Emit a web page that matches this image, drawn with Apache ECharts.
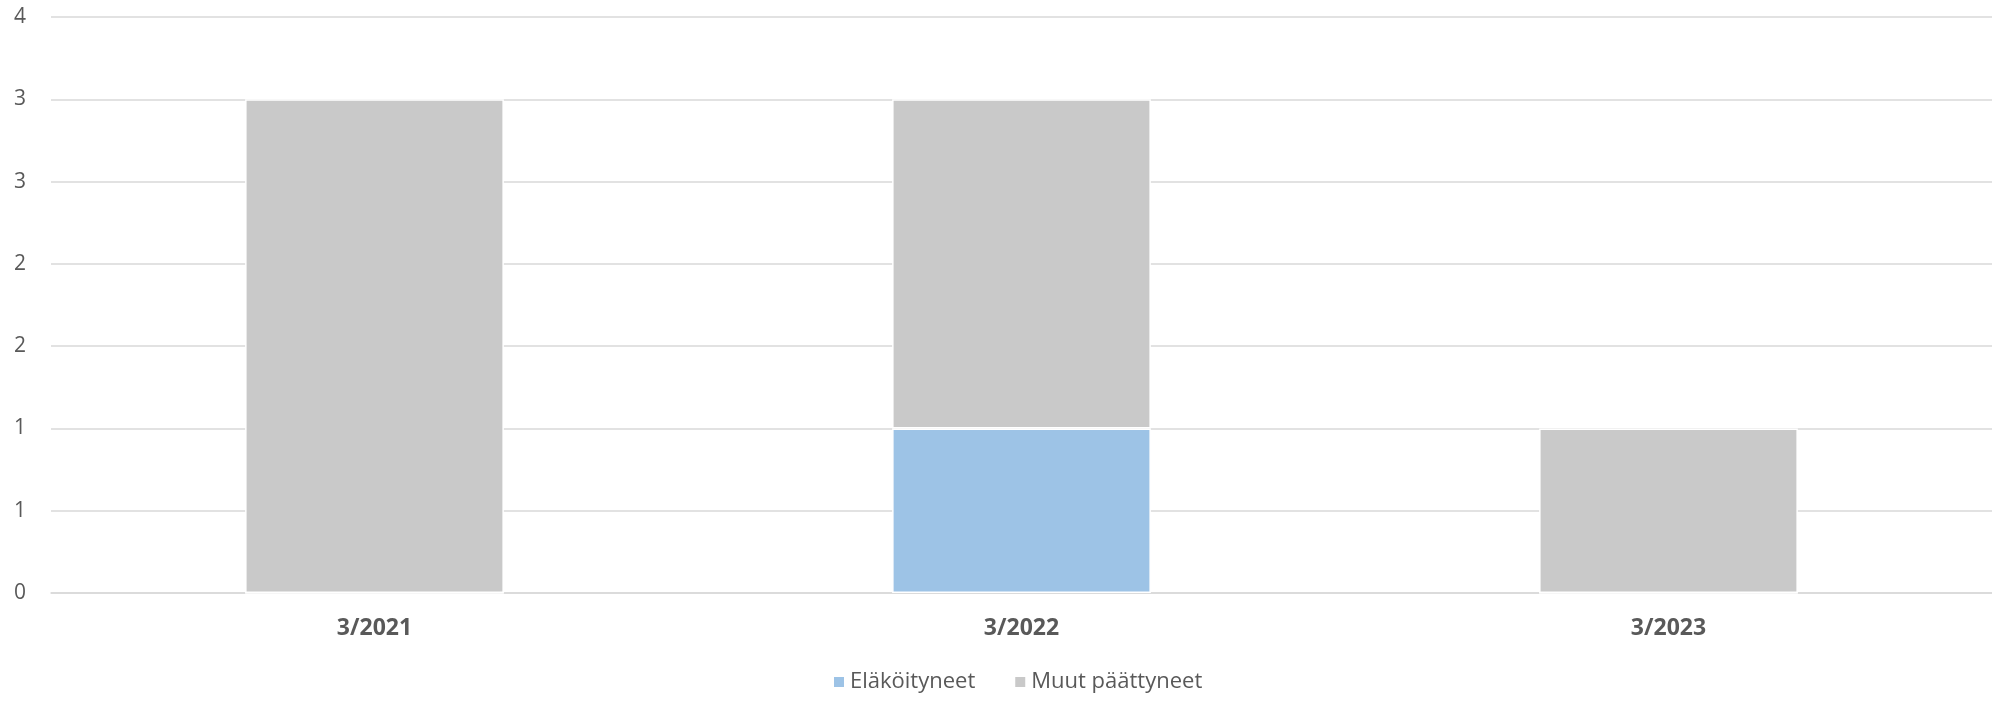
<!DOCTYPE html>
<html><head><meta charset="utf-8">
<script src="https://cdn.jsdelivr.net/npm/echarts@6/dist/echarts.min.js"></script>
<style>html,body{margin:0;padding:0;background:#fff}#c{width:1992px;height:701px}</style>
</head><body><div id="c"></div>
<script>
const categories = ['3/2021', '3/2022', '3/2023'];
const elakoityneet = [0, 1, 0];
const muutPaattyneet = [3, 2, 1];
const seriesNames = ['Eläköityneet', 'Muut päättyneet'];

const chart = echarts.init(document.getElementById('c'));
const font = '"Open Sans", "Noto Sans", sans-serif';
chart.setOption({
  animation: false,
  textStyle: { fontFamily: font },
  grid: { left: 51, right: 0, top: 17, bottom: 108 },
  legend: {
    bottom: 3, left: 827, itemWidth: 12, itemHeight: 12, itemGap: 38,
    icon: 'rect',
    textStyle: { color: '#595959', fontSize: 22, fontFamily: font },
    data: seriesNames
  },
  xAxis: {
    type: 'category', data: categories,
    axisLine: { show: true, lineStyle: { color: '#D9D9D9', width: 1.5 } },
    axisTick: { show: false },
    axisLabel: { color: '#595959', fontSize: 23, fontWeight: 'bold', margin: 24, fontFamily: font }
  },
  yAxis: {
    type: 'value', min: 0, max: 3.5, interval: 0.5,
    axisLine: { show: false }, axisTick: { show: false },
    splitLine: { lineStyle: { color: '#D9D9D9', width: 1.5 } },
    axisLabel: { color: '#595959', fontSize: 21, margin: 25, fontFamily: font,
      formatter: v => String(Math.round(v)) }
  },
  series: [
    { name: seriesNames[0], type: 'bar', stack: 's', data: elakoityneet, barWidth: '40%',
      itemStyle: { color: '#9DC3E6', borderColor: '#fff', borderWidth: 1.5 } },
    { name: seriesNames[1], type: 'bar', stack: 's', data: muutPaattyneet, barWidth: '40%',
      itemStyle: { color: '#C9C9C9', borderColor: '#fff', borderWidth: 1.5 } }
  ]
});
</script></body></html>
